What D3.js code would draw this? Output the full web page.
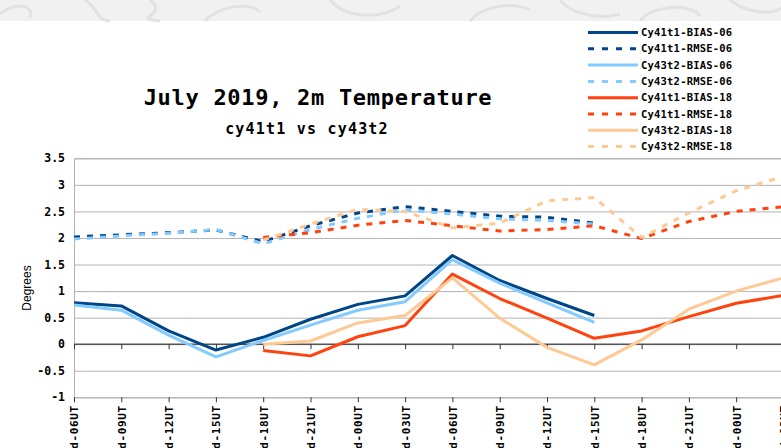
<!DOCTYPE html>
<html>
<head>
<meta charset="utf-8">
<script src="https://cdn.jsdelivr.net/npm/d3@7"></script>
<style>
  html, body { margin: 0; padding: 0; background: #fff; overflow: hidden; }
  #chart { width: 781px; height: 448px; }
  svg { display: block; overflow: hidden; }
</style>
</head>
<body>
<div id="chart"></div>
<script>
// categories (forecast step labels) - prefix is cut off at the bottom edge
var categories = ["0d-06UT", "0d-09UT", "0d-12UT", "0d-15UT", "0d-18UT", "0d-21UT",
                  "1d-00UT", "1d-03UT", "1d-06UT", "1d-09UT", "1d-12UT", "1d-15UT",
                  "1d-18UT", "1d-21UT", "2d-00UT", "2d-03UT"];

var yTicks = [-1, -0.5, 0, 0.5, 1, 1.5, 2, 2.5, 3, 3.5];

// series values, null where the series has no value
var cy41t1Bias06 = [0.78, 0.72, 0.25, -0.11, 0.13, 0.47, 0.75, 0.91, 1.67, 1.20, 0.86, 0.54, null, null, null, null];
var cy41t1Rmse06 = [2.02, 2.06, 2.10, 2.15, 1.93, 2.23, 2.47, 2.59, 2.50, 2.41, 2.39, 2.28, null, null, null, null];
var cy43t2Bias06 = [0.74, 0.64, 0.17, -0.24, 0.07, 0.36, 0.64, 0.80, 1.59, 1.15, 0.78, 0.41, null, null, null, null];
var cy43t2Rmse06 = [1.98, 2.04, 2.09, 2.16, 1.89, 2.16, 2.37, 2.53, 2.45, 2.36, 2.33, 2.26, null, null, null, null];
var cy41t1Bias18 = [null, null, null, null, -0.12, -0.22, 0.14, 0.35, 1.32, 0.86, 0.49, 0.11, 0.25, 0.52, 0.77, 0.92];
var cy41t1Rmse18 = [null, null, null, null, 2.01, 2.10, 2.24, 2.33, 2.23, 2.13, 2.16, 2.23, 1.99, 2.31, 2.50, 2.59];
var cy43t2Bias18 = [null, null, null, null, 0.00, 0.06, 0.40, 0.54, 1.25, 0.49, -0.06, -0.39, 0.08, 0.66, 1.00, 1.25];
var cy43t2Rmse18 = [null, null, null, null, 1.96, 2.26, 2.54, 2.50, 2.19, 2.28, 2.70, 2.76, 2.01, 2.47, 2.89, 3.16];

var seriesNames = ["Cy41t1-BIAS-06", "Cy41t1-RMSE-06", "Cy43t2-BIAS-06", "Cy43t2-RMSE-06",
                   "Cy41t1-BIAS-18", "Cy41t1-RMSE-18", "Cy43t2-BIAS-18", "Cy43t2-RMSE-18"];
var seriesValues = [cy41t1Bias06, cy41t1Rmse06, cy43t2Bias06, cy43t2Rmse06,
                    cy41t1Bias18, cy41t1Rmse18, cy43t2Bias18, cy43t2Rmse18];
var colors = ["#004586", "#004586", "#83caff", "#83caff", "#ff420e", "#ff420e", "#ffc994", "#ffc994"];
var dashed = [false, true, false, true, false, true, false, true];

var width = 781, height = 448;
var mono = "'DejaVu Sans Mono', monospace";

var svg = d3.select("#chart").append("svg")
    .attr("width", width)
    .attr("height", height);

// page background strip at the top
var bg = svg.append("g");
bg.append("rect").attr("x", 0).attr("y", 0).attr("width", width).attr("height", 21).attr("fill", "#f1f1f1");
var swirls = ["M0,14 C15,2 35,4 30,18", "M85,0 C100,10 95,20 110,21", "M150,0 C170,15 130,18 160,21",
              "M205,21 C220,5 250,2 260,12", "M330,0 C345,18 380,20 400,6", "M470,21 C480,8 510,0 530,10",
              "M560,0 C570,14 600,20 620,14", "M640,21 C650,6 690,2 700,16", "M730,0 C745,12 770,16 781,8"];
bg.selectAll("path").data(swirls).enter().append("path")
    .attr("d", function(d) { return d; })
    .attr("fill", "none")
    .attr("stroke", "#e2e2e2")
    .attr("stroke-width", 3);

// scales
var x = d3.scalePoint()
    .domain(d3.range(categories.length))
    .range([74, 74 + 47.3 * (categories.length - 1)]);

var y = d3.scaleLinear()
    .domain([-1, 3.5])
    .range([397.3, 158.3]);

// gridlines + y labels
var yAxis = svg.append("g")
    .attr("transform", "translate(74,0)")
    .call(d3.axisLeft(y)
        .tickValues(yTicks)
        .tickSize(-(width - 74))
        .tickPadding(9)
        .tickFormat(function(d) { return String(d); }));
yAxis.select(".domain").attr("stroke", "#b3b3b3");
yAxis.selectAll(".tick line").attr("stroke", "#b3b3b3");
yAxis.selectAll(".tick text")
    .attr("font-family", mono)
    .attr("font-size", 11.5)
    .attr("font-weight", "bold")
    .attr("fill", "#000");

// category axis at zero and tick marks at the bottom
var zeroAxis = svg.append("g")
    .attr("transform", "translate(0," + y(0) + ")")
    .call(d3.axisBottom(x).tickSize(5).tickFormat(""));
zeroAxis.select(".domain").attr("stroke", "#555").attr("stroke-width", 1.5)
    .attr("d", "M74,0H" + width);
zeroAxis.selectAll(".tick line").attr("stroke", "#333");

var bottomAxis = svg.append("g")
    .attr("transform", "translate(0," + y(-1) + ")")
    .call(d3.axisBottom(x).tickSize(5).tickPadding(7)
        .tickFormat(function(i) { return categories[i]; }));
bottomAxis.select(".domain").remove();
bottomAxis.selectAll(".tick line").attr("stroke", "#333");
bottomAxis.selectAll(".tick text")
    .attr("font-family", mono)
    .attr("font-size", 11)
    .attr("font-weight", "bold")
    .attr("letter-spacing", 0.6)
    .attr("fill", "#000")
    .attr("text-anchor", "end")
    .attr("transform", "rotate(-90)")
    .attr("x", -8)
    .attr("y", 0)
    .attr("dy", "0.36em");

// lines
var line = d3.line()
    .defined(function(d) { return d != null; })
    .x(function(d, i) { return x(i); })
    .y(function(d) { return y(d); });

svg.append("g").selectAll("path")
    .data(seriesValues)
    .enter().append("path")
    .attr("d", line)
    .attr("fill", "none")
    .attr("stroke", function(d, i) { return colors[i]; })
    .attr("stroke-width", 3)
    .attr("stroke-dasharray", function(d, i) { return dashed[i] ? "6,7" : null; })
    .attr("stroke-linejoin", "round");

// titles
svg.append("text")
    .attr("x", 318).attr("y", 105)
    .attr("text-anchor", "middle")
    .attr("font-family", mono)
    .attr("font-size", 22)
    .attr("font-weight", "bold")
    .attr("letter-spacing", 0.7)
    .text("July 2019, 2m Temperature");

svg.append("text")
    .attr("x", 307).attr("y", 134)
    .attr("text-anchor", "middle")
    .attr("font-family", mono)
    .attr("font-size", 15)
    .attr("font-weight", "bold")
    .attr("letter-spacing", 1.2)
    .text("cy41t1 vs cy43t2");

svg.append("text")
    .attr("transform", "translate(31,288) rotate(-90)")
    .attr("text-anchor", "middle")
    .attr("font-family", "'Liberation Sans', Arial, sans-serif")
    .attr("font-size", 12)
    .text("Degrees");

// legend
var legend = svg.append("g").selectAll("g")
    .data(seriesNames)
    .enter().append("g")
    .attr("transform", function(d, i) { return "translate(588," + (32.5 + i * 16.3) + ")"; });

legend.append("line")
    .attr("x1", 0).attr("x2", 50)
    .attr("stroke", function(d, i) { return colors[i]; })
    .attr("stroke-width", 3)
    .attr("stroke-dasharray", function(d, i) { return dashed[i] ? "6,8" : null; });

legend.append("text")
    .attr("x", 53)
    .attr("dy", "0.35em")
    .attr("font-family", mono)
    .attr("font-size", 10.5)
    .attr("font-weight", "bold")
    .attr("letter-spacing", 0.2)
    .text(function(d) { return d; });
</script>
</body>
</html>
